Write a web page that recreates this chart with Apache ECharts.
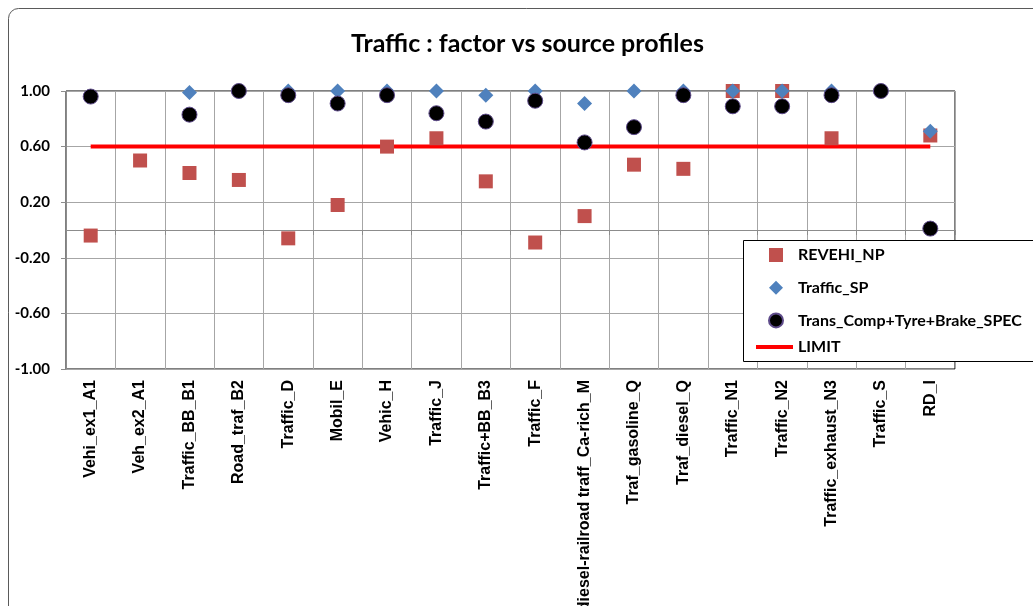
<!DOCTYPE html>
<html>
<head>
<meta charset="utf-8">
<title>Traffic : factor vs source profiles</title>
<script src="https://cdn.jsdelivr.net/npm/echarts@6/dist/echarts.min.js"></script>
<style>
  html, body { margin: 0; padding: 0; background: #fff; }
  #chart { width: 1033px; height: 606px; }
</style>
</head>
<body>
<div id="chart"></div>
<script>
  // source profiles (categories)
  var profiles = ['Vehi_ex1_A1', 'Veh_ex2_A1', 'Traffic_BB_B1', 'Road_traf_B2', 'Traffic_D',
    'Mobil_E', 'Vehic_H', 'Traffic_J', 'Traffic+BB_B3', 'Traffic_F',
    'diesel-railroad traff_Ca-rich_M', 'Traf_gasoline_Q', 'Traf_diesel_Q', 'Traffic_N1', 'Traffic_N2',
    'Traffic_exhaust_N3', 'Traffic_S', 'RD_I'];

  var revehiNP = [-0.04, 0.50, 0.41, 0.36, -0.06, 0.18, 0.60, 0.66, 0.35, -0.09,
    0.10, 0.47, 0.44, 1.00, 1.00, 0.66, null, 0.68];
  var trafficSP = [null, null, 0.99, 1.00, 1.00, 1.00, 1.00, 1.00, 0.97, 1.00,
    0.91, 1.00, 1.00, 1.00, 1.00, 1.00, 1.00, 0.71];
  var transComp = [0.96, null, 0.83, 1.00, 0.97, 0.91, 0.97, 0.84, 0.78, 0.93,
    0.63, 0.74, 0.97, 0.89, 0.89, 0.97, 1.00, 0.01];
  var limit = [0.6, 0.6, 0.6, 0.6, 0.6, 0.6, 0.6, 0.6, 0.6, 0.6,
    0.6, 0.6, 0.6, 0.6, 0.6, 0.6, 0.6, 0.6];

  var calibri = 'Lato, "Open Sans", sans-serif';
  var arial = '"Liberation Sans", Arial, sans-serif';

  var legendText = {
    fontFamily: calibri,
    fontSize: 16,
    fontWeight: 'bold',
    color: '#000',
    lineHeight: 14
  };

  var myChart = echarts.init(document.getElementById('chart'));

  myChart.setOption({
    animation: false,
    backgroundColor: '#fff',
    graphic: [
      {
        // outer chart frame
        type: 'rect',
        shape: { x: 8.5, y: 8.5, width: 1040, height: 640, r: 10 },
        style: { fill: 'none', stroke: '#5a5a5a', lineWidth: 1 },
        silent: true,
        z: -1
      },
      {
        // legend box, runs off the right edge like the original
        type: 'rect',
        shape: { x: 743.5, y: 240.5, width: 320, height: 121 },
        style: { fill: '#fff', stroke: '#000', lineWidth: 1 },
        silent: true,
        z: 10
      }
    ],
    title: {
      text: 'Traffic : factor vs source profiles',
      left: 346,
      top: 26,
      textStyle: { fontFamily: calibri, fontSize: 25, fontWeight: 'bold', color: '#000' }
    },
    legend: [
      {
        orient: 'vertical',
        left: 768,
        top: 247,
        padding: 0,
        itemWidth: 14,
        itemHeight: 14,
        itemGap: 16.7,
        z: 20,
        textStyle: Object.assign({ padding: [0, 0, 0, 10] }, legendText),
        data: [
          { name: 'REVEHI_NP', icon: 'rect' },
          { name: 'Traffic_SP', icon: 'diamond' },
          { name: 'Trans_Comp+Tyre+Brake_SPEC', icon: 'circle' }
        ]
      },
      {
        orient: 'vertical',
        left: 756,
        top: 339,
        padding: 0,
        itemWidth: 37,
        itemHeight: 4,
        z: 20,
        textStyle: legendText,
        data: [{ name: 'LIMIT', icon: 'rect' }]
      }
    ],
    grid: {
      left: 66,
      right: 78,
      top: 91,
      bottom: 237,
      containLabel: false,
      outerBoundsMode: 'none',
      show: true,
      borderColor: '#000',
      borderWidth: 1
    },
    xAxis: {
      type: 'category',
      data: profiles,
      boundaryGap: true,
      axisLine: { lineStyle: { color: '#8c8c8c' } },
      axisTick: { show: true, length: 5, lineStyle: { color: '#8c8c8c' } },
      splitLine: { show: true, interval: 0, lineStyle: { color: '#a6a6a6' } },
      axisLabel: {
        interval: 0,
        rotate: 90,
        margin: 11,
        fontFamily: arial,
        fontSize: 16,
        fontWeight: 'bold',
        color: '#000'
      }
    },
    yAxis: {
      type: 'value',
      min: -1.0,
      max: 1.0,
      interval: 0.4,
      axisLine: { show: true, lineStyle: { color: '#8c8c8c' } },
      axisTick: { show: true, length: 5, lineStyle: { color: '#8c8c8c' } },
      splitLine: { show: true, lineStyle: { color: '#a6a6a6' } },
      axisLabel: {
        margin: 16,
        fontFamily: calibri,
        fontSize: 15,
        fontWeight: 'bold',
        color: '#000',
        formatter: function (v) { return v.toFixed(2); }
      }
    },
    series: [
      {
        name: 'LIMIT',
        type: 'line',
        data: limit,
        symbol: 'none',
        z: 1,
        lineStyle: { color: '#ff0000', width: 4 },
        itemStyle: { color: '#ff0000' }
      },
      {
        name: 'REVEHI_NP',
        type: 'scatter',
        data: revehiNP,
        symbol: 'rect',
        symbolSize: 14,
        z: 2,
        itemStyle: { color: '#c0504d', opacity: 1 }
      },
      {
        name: 'Traffic_SP',
        type: 'scatter',
        data: trafficSP,
        symbol: 'diamond',
        symbolSize: 15,
        z: 3,
        itemStyle: { color: '#4f81bd', opacity: 1 }
      },
      {
        name: 'Trans_Comp+Tyre+Brake_SPEC',
        type: 'scatter',
        data: transComp,
        symbol: 'circle',
        symbolSize: 15,
        z: 4,
        itemStyle: { color: '#000', borderColor: '#5e4b8a', borderWidth: 1, opacity: 1 }
      }
    ]
  });
</script>
</body>
</html>
